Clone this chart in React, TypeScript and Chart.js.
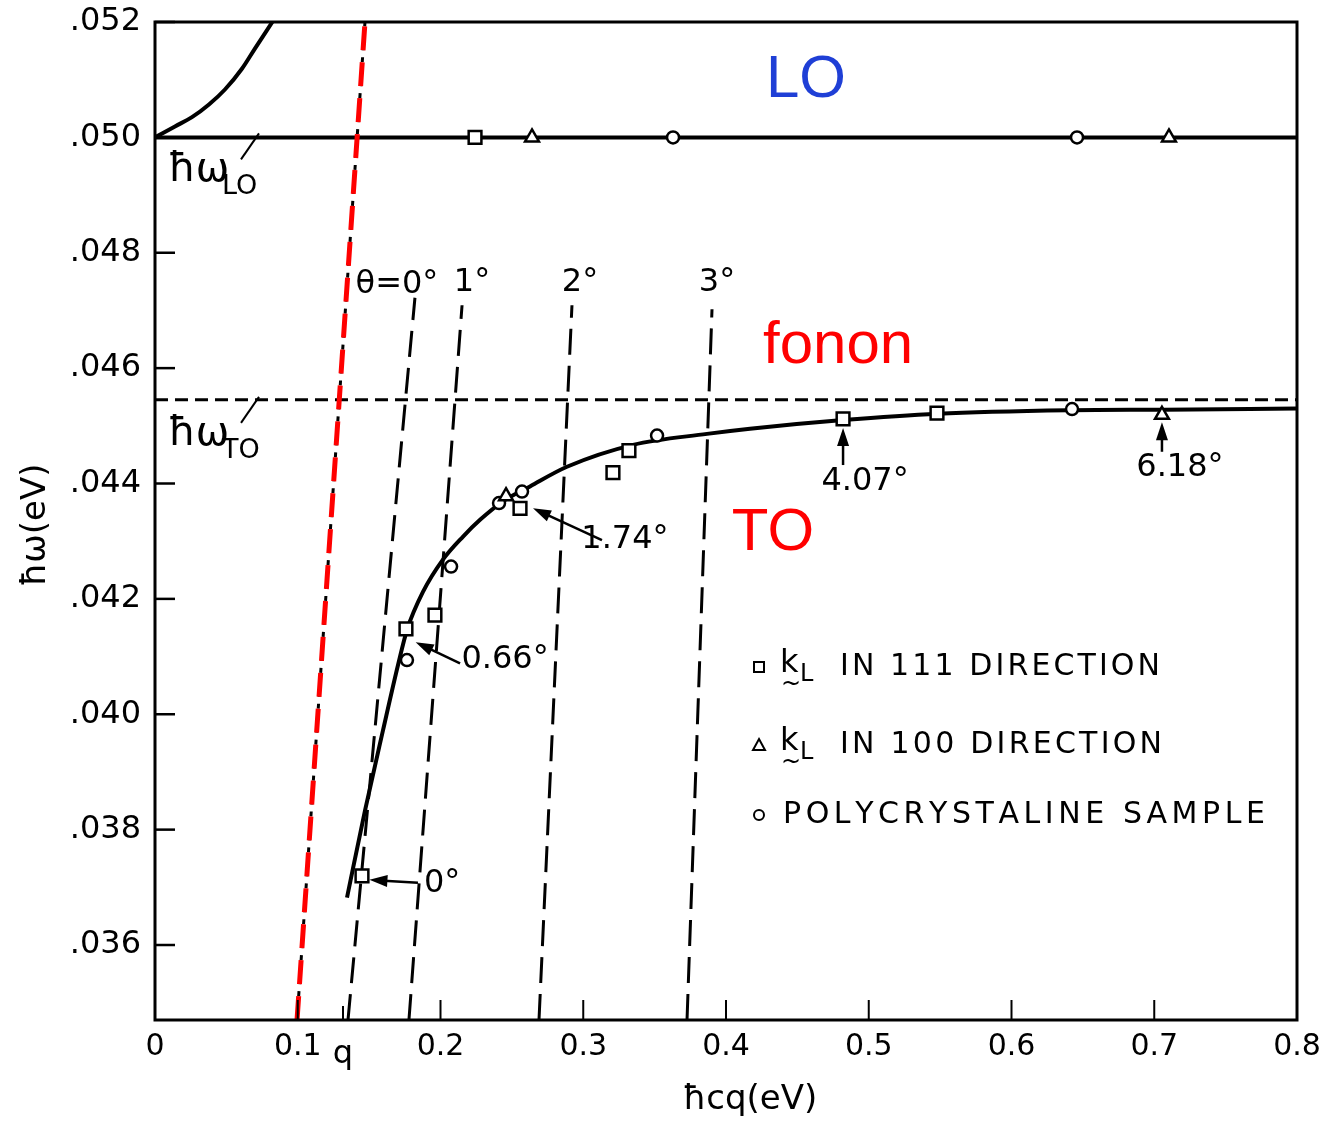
import React, { useEffect, useRef } from "react";
import { Chart, registerables } from "chart.js";

Chart.register(...registerables);

// ---------------- data ----------------
const xTickValues = [0, 0.1, 0.2, 0.3, 0.4, 0.5, 0.6, 0.7, 0.8];
const xTickLabels = ["0", "0.1", "0.2", "0.3", "0.4", "0.5", "0.6", "0.7", "0.8"];
const yTickValues = [0.036, 0.038, 0.04, 0.042, 0.044, 0.046, 0.048, 0.05, 0.052];
const yTickLabels = [".036", ".038", ".040", ".042", ".044", ".046", ".048", ".050", ".052"];
const qMark = 0.1317;

const upperBranchQ = [0, 0.014, 0.0259, 0.0378, 0.049, 0.0609, 0.07, 0.0822];
const upperBranchE = [0.05, 0.05019, 0.05035, 0.05057, 0.05083, 0.05119, 0.05154, 0.052];

const loEnergy = 0.05;
const toEnergy = 0.04545;

const lowerBranchQ = [0.1345, 0.1471, 0.1597, 0.1702, 0.1765, 0.1877, 0.2017, 0.2158, 0.2277, 0.2438, 0.2627, 0.2886, 0.3349, 0.3867, 0.4168, 0.482, 0.5485, 0.6424, 0.707, 0.8];
const lowerBranchE = [0.03682, 0.03833, 0.03972, 0.04085, 0.04146, 0.04212, 0.04268, 0.04308, 0.04337, 0.04369, 0.04395, 0.04429, 0.04467, 0.04486, 0.04495, 0.0451, 0.04521, 0.04527, 0.04528, 0.0453];

const photonQ = [0.0995, 0.1471];
const photonE = [0.0347, 0.052];

const angleNames = ["θ=0°", "1°", "2°", "3°"];
const angleQLow = [0.1352, 0.1779, 0.269, 0.3727];
const angleELow = [0.0347, 0.0347, 0.0347, 0.0347];
const angleQHigh = [0.1821, 0.2151, 0.2921, 0.3902];
const angleEHigh = [0.04722, 0.04709, 0.04709, 0.04702];

const dir111Q = [0.145, 0.1758, 0.1961, 0.2557, 0.3208, 0.332, 0.482, 0.5478, 0.2242];
const dir111E = [0.0372, 0.04148, 0.04172, 0.04357, 0.04419, 0.04457, 0.04512, 0.04522, 0.05];

const dir100Q = [0.2459, 0.7054, 0.2641, 0.7103];
const dir100E = [0.04378, 0.04519, 0.05, 0.05];

const polyQ = [0.1765, 0.2074, 0.241, 0.2571, 0.3517, 0.6424, 0.3629, 0.6459];
const polyE = [0.04094, 0.04256, 0.04366, 0.04386, 0.04483, 0.04529, 0.05, 0.05];

// annotation labels (data coordinates) and their arrows
const angleLabelQ = [0.1695, 0.2221, 0.2977, 0.3937];
const angleLabelE = [0.04744, 0.04748, 0.04748, 0.04748];

const markLabels = ["0.66°", "1.74°", "4.07°", "6.18°", "0°"];
const markLabelQ = [0.2452, 0.3292, 0.4974, 0.718, 0.2011];
const markLabelE = [0.04094, 0.04302, 0.04403, 0.04427, 0.03706];
const arrowFromQ = [0.2137, 0.3131, 0.482, 0.7054, 0.1842];
const arrowFromE = [0.04088, 0.04302, 0.04432, 0.04455, 0.03708];
const arrowToQ = [0.1826, 0.2648, 0.482, 0.7054, 0.1502];
const arrowToE = [0.04125, 0.04357, 0.04496, 0.04506, 0.03713];

const xAxisTitle = "ħcq(eV)";
const yAxisTitle = "ħω(eV)";

// ---------------- helpers ----------------
const pts = (qs: number[], es: number[]) => qs.map((q, i) => ({ x: q, y: es[i] }));

function spacedText(ctx: CanvasRenderingContext2D, text: string, x: number, y: number, width: number) {
  const chars = Array.from(text);
  const ws = chars.map((c) => ctx.measureText(c).width);
  const total = ws.reduce((a, b) => a + b, 0);
  const gap = chars.length > 1 ? (width - total) / (chars.length - 1) : 0;
  let cx = x;
  ctx.textAlign = "left";
  chars.forEach((c, i) => {
    ctx.fillText(c, cx, y);
    cx += ws[i] + gap;
  });
}

function arrow(ctx: CanvasRenderingContext2D, x1: number, y1: number, x2: number, y2: number) {
  const a = Math.atan2(y2 - y1, x2 - x1);
  const len = 18;
  const hw = 6;
  ctx.beginPath();
  ctx.moveTo(x1, y1);
  ctx.lineTo(x2 - Math.cos(a) * len * 0.8, y2 - Math.sin(a) * len * 0.8);
  ctx.lineWidth = 2.5;
  ctx.stroke();
  ctx.beginPath();
  ctx.moveTo(x2, y2);
  ctx.lineTo(x2 - Math.cos(a) * len - Math.sin(a) * hw, y2 - Math.sin(a) * len + Math.cos(a) * hw);
  ctx.lineTo(x2 - Math.cos(a) * len + Math.sin(a) * hw, y2 - Math.sin(a) * len - Math.cos(a) * hw);
  ctx.closePath();
  ctx.fill();
}

const overlay = {
  id: "overlay",
  afterDatasetsDraw(chart: any) {
    const { ctx, chartArea: ca, scales } = chart;
    const X = (v: number) => scales.x.getPixelForValue(v);
    const Y = (v: number) => scales.y.getPixelForValue(v);
    ctx.save();
    ctx.strokeStyle = "#000";
    ctx.fillStyle = "#000";

    // frame
    ctx.lineWidth = 3;
    ctx.strokeRect(ca.left, ca.top, ca.right - ca.left, ca.bottom - ca.top);

    // inward tick marks
    ctx.lineWidth = 2.5;
    yTickValues.forEach((v) => {
      const y = Y(v);
      ctx.beginPath();
      ctx.moveTo(ca.left, y);
      ctx.lineTo(ca.left + 20, y);
      ctx.stroke();
    });
    ctx.lineWidth = 2;
    xTickValues.forEach((v) => {
      const x = X(v);
      ctx.beginPath();
      ctx.moveTo(x, ca.bottom);
      ctx.lineTo(x, ca.bottom - 20);
      ctx.stroke();
    });

    // y tick labels
    ctx.font = '32px "DejaVu Sans"';
    ctx.textAlign = "right";
    ctx.textBaseline = "middle";
    yTickValues.forEach((v, i) => ctx.fillText(yTickLabels[i], ca.left - 14, Y(v)));

    // x tick labels
    ctx.font = '30px "DejaVu Sans"';
    ctx.textAlign = "center";
    ctx.textBaseline = "middle";
    xTickValues.forEach((v, i) => ctx.fillText(xTickLabels[i], X(v), ca.bottom + 27));

    // q mark
    const qx = X(qMark);
    ctx.beginPath();
    ctx.moveTo(qx, ca.bottom);
    ctx.lineTo(qx, ca.bottom - 14);
    ctx.stroke();
    ctx.font = '32px "DejaVu Sans"';
    ctx.fillText("q", qx, ca.bottom + 35);

    // axis titles
    ctx.font = '34px "DejaVu Sans"';
    ctx.fillText(xAxisTitle, (ca.left + ca.right) / 2 + 24, ca.bottom + 80);
    ctx.save();
    ctx.translate(36, 525);
    ctx.rotate(-Math.PI / 2);
    ctx.fillText(yAxisTitle, 0, 0);
    ctx.restore();

    // ħω_LO, ħω_TO labels
    const hbarLabel = (e: number, sub: string, dy: number) => {
      const y = Y(e) + dy;
      ctx.textAlign = "left";
      ctx.textBaseline = "alphabetic";
      ctx.font = '40px "DejaVu Sans"';
      ctx.fillText("ħω", ca.left + 13, y);
      ctx.font = '27px "DejaVu Sans"';
      ctx.fillText(sub, ca.left + 67, y + 13);
      ctx.lineWidth = 2;
      ctx.beginPath();
      ctx.moveTo(ca.left + 86, y - 22);
      ctx.lineTo(ca.left + 104, y - 48);
      ctx.stroke();
    };
    hbarLabel(loEnergy, "LO", 44);
    hbarLabel(toEnergy, "TO", 45);

    // angle labels
    ctx.font = '32px "DejaVu Sans"';
    ctx.textAlign = "center";
    ctx.textBaseline = "middle";
    angleNames.forEach((t, i) => ctx.fillText(t, X(angleLabelQ[i]), Y(angleLabelE[i])));

    // marked angles with arrows
    markLabels.forEach((t, i) => {
      ctx.font = '32px "DejaVu Sans"';
      ctx.textAlign = "center";
      ctx.textBaseline = "middle";
      ctx.fillText(t, X(markLabelQ[i]), Y(markLabelE[i]));
      arrow(ctx, X(arrowFromQ[i]), Y(arrowFromE[i]), X(arrowToQ[i]), Y(arrowToE[i]));
    });

    // colored labels
    ctx.font = '60px "Liberation Sans"';
    ctx.textAlign = "center";
    ctx.textBaseline = "middle";
    ctx.fillStyle = "#1f3fd6";
    ctx.fillText("LO", X(0.456), Y(0.05099));
    ctx.fillStyle = "#ff0000";
    ctx.fillText("fonon", X(0.4785), Y(0.04637));
    ctx.fillText("TO", X(0.4329), Y(0.04314));

    // legend
    ctx.fillStyle = "#000";
    ctx.strokeStyle = "#000";
    const rows = [
      { y: 667, marker: "rect", k: true, text: "IN 111 DIRECTION", x0: 840, x1: 1160 },
      { y: 745, marker: "tri", k: true, text: "IN 100 DIRECTION", x0: 840, x1: 1162 },
      { y: 815, marker: "circ", k: false, text: "POLYCRYSTALINE SAMPLE", x0: 783, x1: 1265 },
    ];
    rows.forEach((r) => {
      ctx.lineWidth = 2;
      const mx = 759;
      ctx.beginPath();
      if (r.marker === "rect") ctx.rect(mx - 5, r.y - 5, 10, 10);
      else if (r.marker === "tri") {
        ctx.moveTo(mx, r.y - 6);
        ctx.lineTo(mx + 6, r.y + 5);
        ctx.lineTo(mx - 6, r.y + 5);
        ctx.closePath();
      } else ctx.arc(mx, r.y, 5, 0, Math.PI * 2);
      ctx.stroke();
      ctx.textBaseline = "middle";
      if (r.k) {
        ctx.font = '32px "DejaVu Sans"';
        ctx.textAlign = "left";
        ctx.fillText("k", 780, r.y - 3);
        ctx.font = '24px "DejaVu Sans"';
        ctx.fillText("L", 800, r.y + 8);
        ctx.font = '24px "DejaVu Sans"';
        ctx.fillText("~", 781, r.y + 18);
      }
      ctx.font = '30px "DejaVu Sans"';
      spacedText(ctx, r.text, r.x0, r.y, r.x1 - r.x0);
    });

    ctx.restore();
  },
};

export default function App() {
  const ref = useRef<HTMLCanvasElement>(null);
  useEffect(() => {
    const canvas = ref.current!;
    const lineDs = (qs: number[], es: number[], extra: any) => ({
      data: pts(qs, es),
      showLine: true,
      pointRadius: 0,
      borderColor: "#000",
      backgroundColor: "#000",
      borderWidth: 4,
      fill: false,
      order: 2,
      ...extra,
    });
    const marker = (qs: number[], es: number[], style: string, r: number) => ({
      data: pts(qs, es),
      pointStyle: style,
      pointRadius: r,
      pointBackgroundColor: "#fff",
      pointBorderColor: "#000",
      pointBorderWidth: 2.5,
      showLine: false,
      order: 0,
    });
    const datasets: any[] = [
      marker(dir111Q, dir111E, "rect", 9),
      marker(dir100Q, dir100E, "triangle", 8),
      marker(polyQ, polyE, "circle", 6),
      lineDs(upperBranchQ, upperBranchE, { cubicInterpolationMode: "monotone" }),
      lineDs([0, 0.8], [loEnergy, loEnergy], { borderWidth: 4 }),
      lineDs([0, 0.8], [toEnergy, toEnergy], { borderWidth: 3, borderDash: [13, 7] }),
      lineDs(lowerBranchQ, lowerBranchE, { cubicInterpolationMode: "monotone", borderWidth: 4 }),
      lineDs(photonQ, photonE, { borderColor: "#ff0000", borderWidth: 5, borderDash: [24, 12], order: 1 }),
      lineDs(photonQ, photonE, { borderWidth: 3, borderDash: [5, 7], order: 3 }),
      ...angleQLow.map((q, i) =>
        lineDs([q, angleQHigh[i]], [angleELow[i], angleEHigh[i]], { borderWidth: 3, borderDash: [26, 11], order: 3 })
      ),
    ];
    const chart = new Chart(canvas, {
      type: "scatter",
      data: { datasets },
      options: {
        responsive: false,
        animation: false,
        devicePixelRatio: 1,
        layout: { padding: { left: 155, right: 23, top: 22, bottom: 105 } },
        scales: {
          x: { type: "linear", display: false, min: 0, max: 0.8 },
          y: { type: "linear", display: false, min: 0.0347, max: 0.052 },
        },
        plugins: { legend: { display: false }, tooltip: { enabled: false } },
      },
      plugins: [overlay],
    } as any);
    return () => chart.destroy();
  }, []);
  return (
    <div style={{ position: "absolute", left: 0, top: 0, width: 1320, height: 1125, background: "#fff" }}>
      <canvas ref={ref} width={1320} height={1125} style={{ display: "block", width: 1320, height: 1125 }} />
    </div>
  );
}
